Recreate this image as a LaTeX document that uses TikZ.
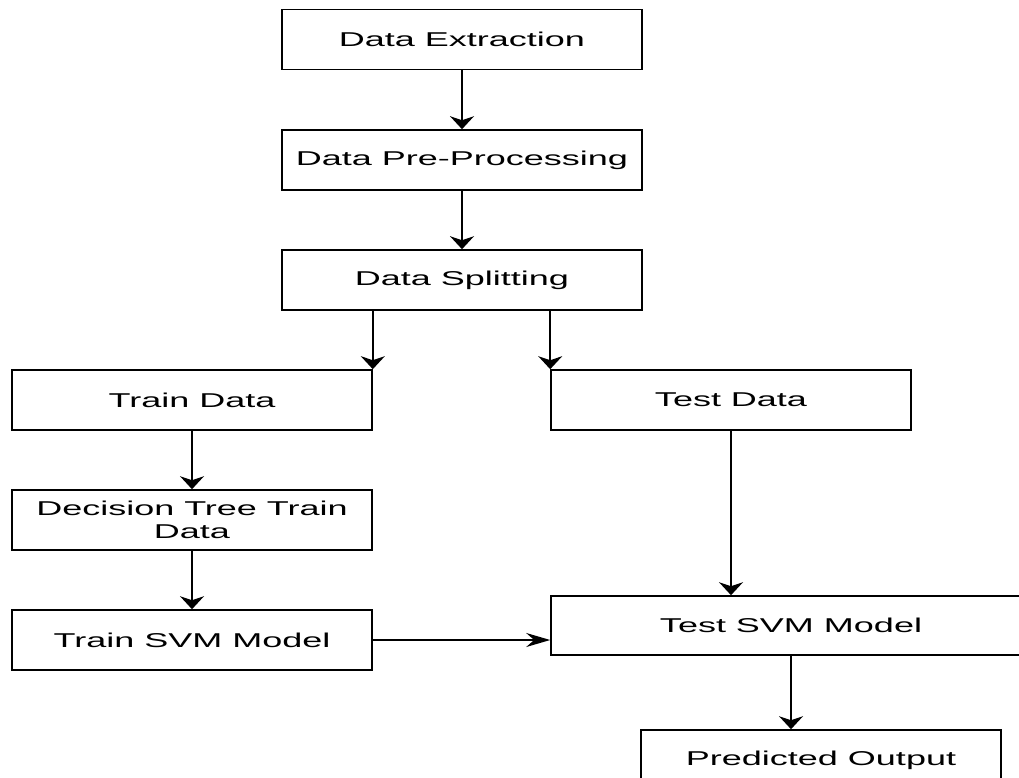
\documentclass[tikz,border=0pt]{standalone}
\usepackage{fontspec}
\setmainfont{Liberation Sans}
\usetikzlibrary{arrows.meta}
\newcommand{\wtext}[1]{\scalebox{1.8}[1]{#1}}
\tikzset{
  box/.style={draw, rectangle, line width=1.6pt, minimum width=360pt, minimum height=60pt,
    inner sep=0pt, align=center, font=\fontsize{20}{23}\selectfont},
  down/.style={line width=1.6pt, -{Stealth[length=13pt,width=24pt,inset=4pt]}},
  across/.style={line width=1.4pt, -{Stealth[length=24pt,width=14pt,inset=8pt]}}
}
\begin{document}
\begin{tikzpicture}[x=1pt,y=-1pt]
    \useasboundingbox (0,0) rectangle (1019,778);
    \clip (0,0) rectangle (1019,778);
    \node [box] (ext) at (462,39.5) {\wtext{Data Extraction}};
    \node [box] (pre) at (462,160) {\wtext{Data Pre-Processing}};
    \node [box] (split) at (462,280) {\wtext{Data Splitting}};
    \node [box] (train) at (192,400) {\wtext{Train Data}};
    \node [box] (test) at (731,400) {\wtext{Test Data}};
    \node [box] (dtree) at (192,520) {\wtext{Decision Tree Train}\\\wtext{Data}};
    \node [box] (trsvm) at (192,640) {\wtext{Train SVM Model}};
    \node [box, minimum width=480pt, minimum height=59pt] (tssvm) at (791,625.5) {\wtext{Test SVM Model}};
    \node [box] (pred) at (821,760) {\wtext{Predicted Output}};
    \draw [down] (ext) -- (pre);
    \draw [down] (pre) -- (split);
    \draw [down] (split.south -| train.north east) -- (train.north east);
    \draw [down] (split.south -| test.north west) -- (test.north west);
    \draw [down] (train) -- (dtree);
    \draw [down] (dtree) -- (trsvm);
    \draw [down] (test) -- (test.south |- tssvm.north);
    \draw [across] (trsvm) -- (trsvm.east -| tssvm.west);
    \draw [down] (tssvm) -- (tssvm.south |- pred.north);
\end{tikzpicture}
\end{document}
